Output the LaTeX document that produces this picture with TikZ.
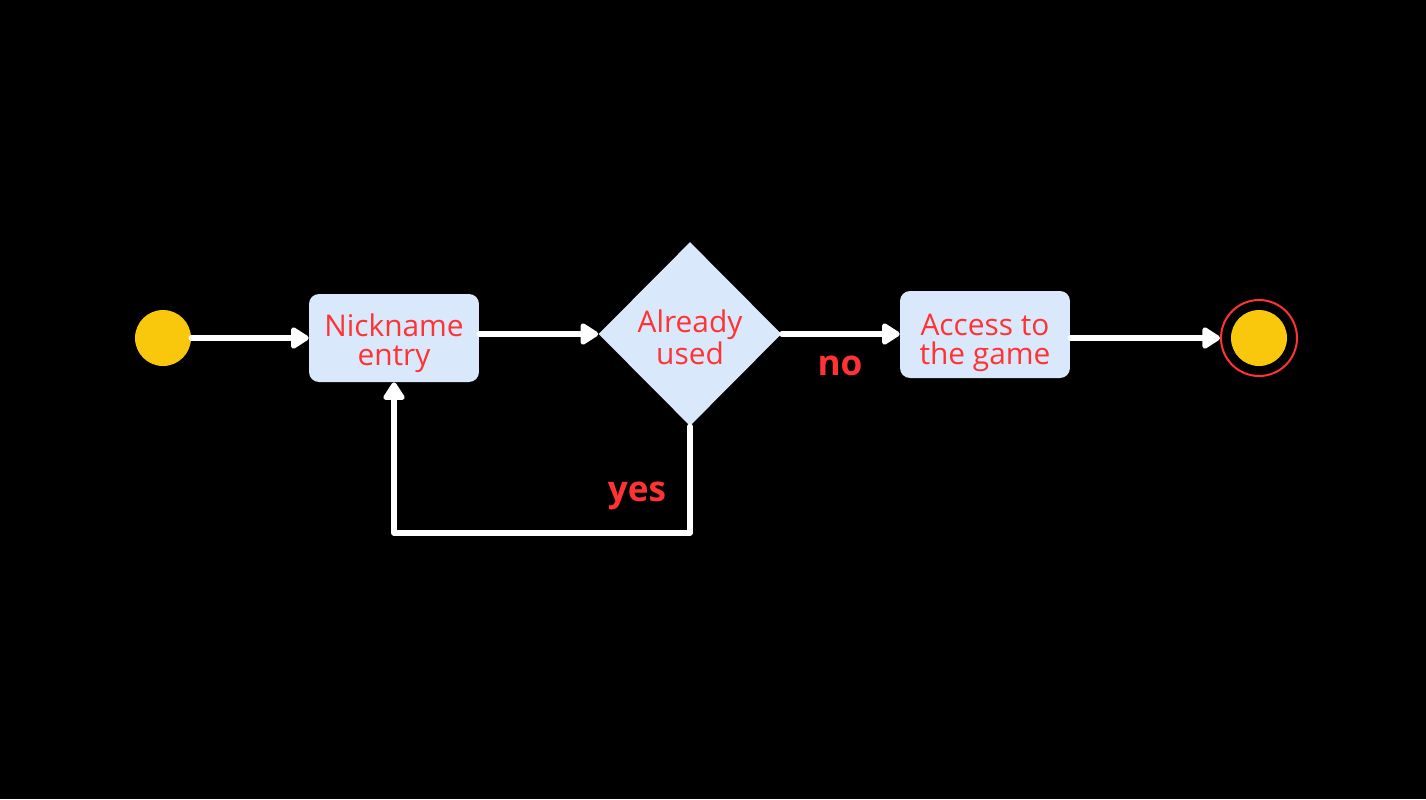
\documentclass[tikz,border=0pt]{standalone}
\usepackage{fontspec}
\setmainfont{Open Sans}
\usetikzlibrary{arrows.meta, positioning, shapes.geometric}
\definecolor{boxfill}{HTML}{DAE8FC}
\definecolor{txtred}{HTML}{FF3333}
\definecolor{dotyellow}{HTML}{F9C80C}

\begin{document}
\begin{tikzpicture}[x=0.02cm, y=-0.02cm, >={Triangle[length=0.4cm, width=0.48cm, round]},
    flow/.style={->, draw=white, line width=0.11cm, line cap=round, line join=round},
    action/.style={rectangle, rounded corners=0.2cm, fill=boxfill, minimum width=3.4cm, minimum height=1.76cm,
        align=center, text=txtred, font=\fontsize{17}{16.5}\selectfont, inner sep=0pt,
        text height=34pt, text depth=3pt},
    choice/.style={diamond, fill=boxfill, minimum width=3.66cm, minimum height=3.68cm, aspect=1,
        align=center, text=txtred, font=\fontsize{17}{16.5}\selectfont, inner sep=0pt,
        text height=37.5pt, text depth=3pt},
    answer/.style={text=txtred, font=\fontsize{20}{24}\selectfont\bfseries}]
    % Background and margins
    \fill[black] (0,0) rectangle (1426,799);
    \useasboundingbox (0,0) rectangle (1426,799);

    % Nodes
    \node[circle, fill=dotyellow, minimum size=1.12cm, inner sep=0pt] (start) at (163,338) {};
    \node[action] (nick) at (394,338) {Nickname\\entry};
    \node[choice] (used) at (690,334) {Already\\used};
    \node[action, minimum height=1.74cm, text height=37pt] (access) at (985,334.5) {Access to\\the game};
    \node[circle, draw=txtred, line width=0.04cm, minimum size=1.52cm, inner sep=0pt] (stop) at (1259,338) {};
    \node[circle, fill=dotyellow, minimum size=1.12cm, inner sep=0pt] at (stop) {};
    \coordinate (turn1) at (690,533);
    \coordinate (turn2) at (394,533);

    % Edges
    \draw[flow] (start) -- (nick);
    \draw[flow] (nick.east |- used.west) -- (used.west);
    \draw[flow] (used.east) -- (used.east -| access.west);
    \draw[flow] (access.east |- stop.west) -- (stop.west);
    \draw[flow] (used.south) -- (turn1) -- (turn2) -- (nick.south);

    % Labels
    \node[answer] (nolabel) at (840,366) {no};
    \node[answer] (yeslabel) at (637,496) {yes};
\end{tikzpicture}
\end{document}
